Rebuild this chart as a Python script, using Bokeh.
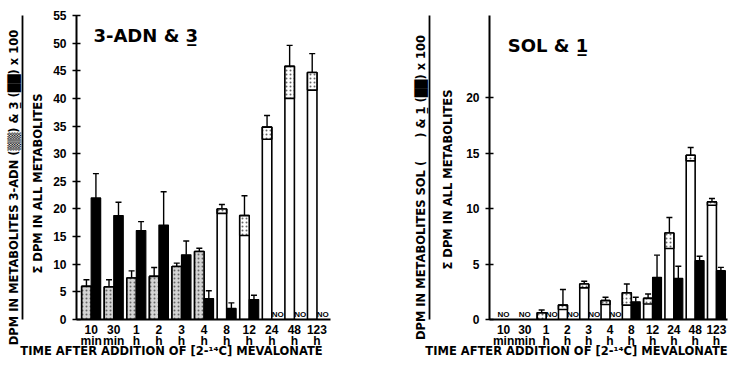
import math
import numpy as np
from bokeh.plotting import figure
from bokeh.models import (Range1d, FixedTicker, Whisker, ColumnDataSource, Label, TeeHead,
                          Title, LinearAxis)
from bokeh.layouts import row
from bokeh.embed import file_html
from bokeh.resources import INLINE
from bokeh.core.properties import value

nan = float("nan")

# ---------------- data ----------------
times = ["10\nmin", "30\nmin", "1\nh", "2\nh", "3\nh", "4\nh", "8\nh", "12\nh", "24\nh", "48\nh", "123\nh"]

# panel A: 3-ADN (stippled / white) and compound 3 (black)
adn = [6.0, 5.9, 7.5, 7.8, 9.6, 12.3, 20.0, 18.8, 34.8, 45.8, 44.7]
adn_up = [7.2, 7.2, 8.8, 9.4, 10.2, 12.9, 20.8, 22.4, 36.9, 49.6, 48.1]
adn_band = [0, 0, 0, 0, 0, 0, 19.2, 15.2, 32.6, 40.0, 41.5]
c3 = [22.0, 18.8, 16.1, 17.1, 11.7, 3.8, 2.0, 3.6, nan, nan, nan]
c3_up = [26.4, 21.2, 17.7, 23.1, 14.2, 5.2, 3.0, 4.4, nan, nan, nan]

# panel B: SOL (white) and compound 1 (black)
sol = [nan, nan, 0.6, 1.3, 3.2, 1.7, 2.4, 1.9, 7.8, 14.8, 10.6]
sol_up = [nan, nan, 0.85, 2.7, 3.45, 2.0, 3.2, 2.3, 9.2, 15.5, 10.9]
sol_band = [nan, nan, 0, 0.9, 2.85, 1.35, 1.3, 1.4, 6.4, 14.3, 10.3]
c1 = [nan, nan, nan, nan, nan, nan, 1.6, 3.8, 3.7, 5.3, 4.4]
c1_up = [nan, nan, nan, nan, nan, nan, 2.0, 5.8, 4.8, 5.7, 4.7]

yticks_a = [0, 5, 10, 15, 20, 25, 30, 35, 40, 45, 50, 55]
yticks_b = [0, 5, 10, 15, 20]

x_title = "TIME AFTER ADDITION OF [2-\u00b9\u2074C] MEVALONATE"
ylab_a = "DPM IN METABOLITES 3-ADN (\u2592\u2592) & 3\u0332 (\u2588\u2588) x 100"
ylab_b = "DPM IN METABOLITES SOL (\u2003\u2003) & 1\u0332 (\u2588\u2588) x 100"
ylab_den = "\u03a3 DPM IN ALL METABOLITES"

FONT = value("Liberation Sans")
H = 361
BW = 0.42
OFF = 0.21
SP = "\u2007"


def valid(seq):
    return [i for i, v in enumerate(seq) if not (isinstance(v, float) and math.isnan(v))]


def chart(width, bl, br, bt, xr, yend, yticks, light, light_up, light_band, dark, dark_up,
          gray_fill, xlabel, num, den, inner_standoff, outer_standoff):
    p = figure(width=width, height=H, output_backend="svg", toolbar_location=None,
               x_range=Range1d(*xr), y_range=Range1d(0, yend),
               min_border_left=bl, min_border_right=br, min_border_top=bt, min_border_bottom=0)
    p.outline_line_color = None
    p.xgrid.visible = False
    p.ygrid.visible = False
    p.background_fill_color = "white"
    p.border_fill_color = "white"

    idx = np.arange(len(times))
    li = valid(light)
    lsrc = ColumnDataSource(dict(
        x=[idx[i] - OFF for i in li], top=[light[i] for i in li],
        up=[light_up[i] for i in li], band=[light_band[i] for i in li],
        fill=[gray_fill if (light_band[i] == 0 and gray_fill) else "white" for i in li]))
    p.vbar(x="x", top="top", bottom=0, width=BW, source=lsrc, fill_color="white",
           line_color="black", line_width=1.6)
    p.vbar(x="x", top="top", bottom="band", width=BW, source=lsrc, fill_color="fill",
           hatch_pattern="dot", hatch_color="#666666", hatch_scale=4, hatch_weight=1.2,
           line_color="black", line_width=1.6)
    p.add_layout(Whisker(source=lsrc, base="x", lower="top", upper="up", dimension="height",
                         line_color="black", line_width=1.4, lower_head=None,
                         upper_head=TeeHead(size=6, line_color="black", line_width=1.4)))

    di = valid(dark)
    dsrc = ColumnDataSource(dict(
        x=[idx[i] + OFF for i in di], top=[dark[i] for i in di], up=[dark_up[i] for i in di]))
    p.vbar(x="x", top="top", bottom=0, width=BW, source=dsrc, fill_color="black",
           line_color="black", line_width=1.2)
    p.add_layout(Whisker(source=dsrc, base="x", lower="top", upper="up", dimension="height",
                         line_color="black", line_width=1.4, lower_head=None,
                         upper_head=TeeHead(size=6, line_color="black", line_width=1.4)))

    # "NO" (not detected) marks
    nx = []
    for i in range(len(times)):
        dark_missing = i not in di
        light_missing = i not in li
        if dark_missing and light_missing:
            nx.append(idx[i])
        elif dark_missing:
            nx.append(idx[i] + OFF + 0.05)
    p.text(x=nx, y=[0.0] * len(nx), text=["NO"] * len(nx), text_font=FONT,
           text_font_style="bold", text_font_size="8px", text_align="center",
           text_baseline="bottom", y_offset=-1, text_color="black")

    # axes
    p.yaxis.ticker = FixedTicker(ticks=yticks)
    p.xaxis.ticker = FixedTicker(ticks=list(range(len(times))))
    p.xaxis.major_label_overrides = {i: t for i, t in enumerate(times)}
    for ax in (p.xaxis[0], p.yaxis[0]):
        ax.axis_line_width = 2
        ax.axis_line_color = "black"
        ax.major_label_text_font = "Liberation Sans"
        ax.major_label_text_font_style = "bold"
        ax.major_label_text_color = "black"
        ax.minor_tick_line_color = None
        ax.minor_tick_out = 0
        ax.minor_tick_in = 0
    p.yaxis.major_label_text_font_size = "12px"
    p.yaxis.major_tick_in = 4
    p.yaxis.major_tick_out = 4
    p.yaxis.major_tick_line_width = 1.5
    p.yaxis.major_label_standoff = 6
    p.xaxis.major_label_text_font_size = "12px"
    p.xaxis.major_label_text_line_height = 0.85
    p.xaxis.major_tick_in = 0
    p.xaxis.major_tick_out = 0
    p.xaxis.major_label_standoff = 3
    p.xaxis.axis_label = xlabel
    p.xaxis.axis_label_text_font = "DejaVu Sans"
    p.xaxis.axis_label_text_font_style = "bold"
    p.xaxis.axis_label_text_font_size = "11.5px"
    p.xaxis.axis_label_text_color = "black"
    p.xaxis.axis_label_standoff = -7

    # y-axis title as a fraction: denominator, fraction bar, numerator
    p.add_layout(Title(text=den, align="center", text_font="DejaVu Sans",
                       text_font_style="bold", text_font_size="11.5px", text_color="black",
                       standoff=inner_standoff), "left")
    bar = LinearAxis(ticker=FixedTicker(ticks=[]), axis_line_width=1.8, axis_line_color="black",
                     major_tick_line_color=None, minor_tick_line_color=None,
                     major_tick_out=0, major_tick_in=0, minor_tick_out=0, minor_tick_in=0,
                     major_label_standoff=0)
    p.add_layout(bar, "left")
    p.add_layout(Title(text=num, align="center", text_font="DejaVu Sans",
                       text_font_style="bold", text_font_size="11.5px", text_color="black",
                       standoff=outer_standoff), "left")
    return p


# panel A
pa = chart(372, 76, 42, 7, (-0.65, 10.6), 55, yticks_a, adn, adn_up, adn_band, c3, c3_up,
           "#d4d4d4", x_title + SP * 8, ylab_a + SP * 5, ylab_den + SP * 4, 12, 3)
pa.add_layout(Label(x=0.1, y=51.4, text="3-ADN & 3\u0332", text_font="DejaVu Sans",
                    text_font_style="bold", text_font_size="18px", text_baseline="middle",
                    text_color="black"))

# panel B
pb = chart(357, 117, 2, 15, (-0.66, 10.52), 27.4, yticks_b, sol, sol_up, sol_band, c1, c1_up,
           None, x_title + SP * 8, ylab_b + SP * 5, ylab_den + SP * 3, 18, 4)
pb.add_layout(Label(x=0.2, y=24.7, text="SOL & 1\u0332", text_font="DejaVu Sans",
                    text_font_style="bold", text_font_size="18px", text_baseline="middle",
                    text_color="black"))

layout = row(pa, pb, spacing=0)
open("out.html", "w").write(file_html(layout, INLINE))
